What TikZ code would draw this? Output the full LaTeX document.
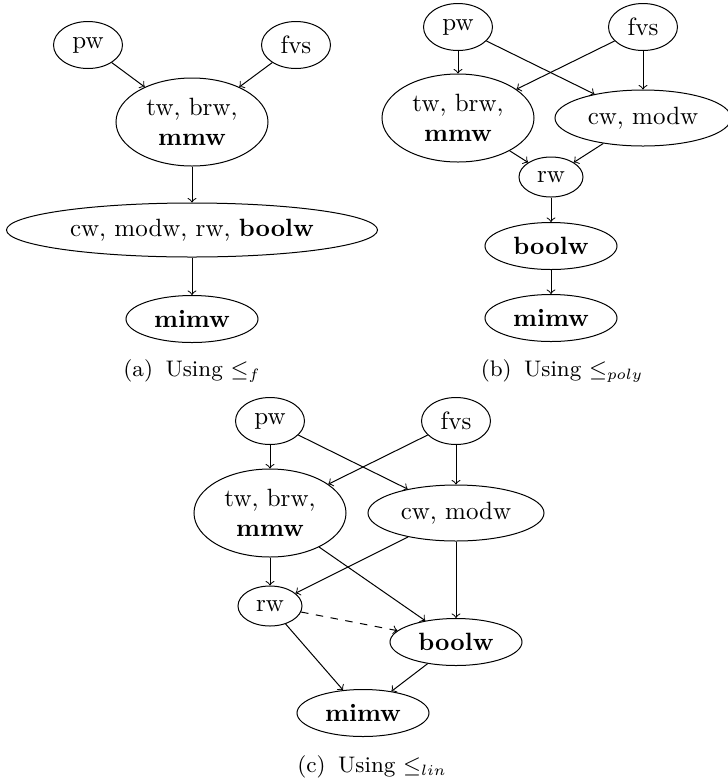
\documentclass[tikz,border=0pt]{standalone}
\usetikzlibrary{shapes.geometric}
\begin{document}
\begin{tikzpicture}[x=0.4pt,y=-0.4pt,
  nd/.style={draw,ellipse,inner sep=0pt,align=center,font=\normalsize},
  nsmall/.style={nd,minimum width=27.6pt,minimum height=18.8pt},
  nbig/.style={nd,minimum width=60.8pt,minimum height=35.2pt},
  nwide/.style={nd,minimum width=70.4pt,minimum height=22.4pt},
  ntiny/.style={nd,minimum width=25.6pt,minimum height=16pt},
  nmed/.style={nd,minimum width=52.8pt,minimum height=18.8pt},
  nhuge/.style={nd,minimum width=148.4pt,minimum height=21.6pt},
  captext/.style={font=\small,inner sep=0pt},
  arr/.style={->}]
\useasboundingbox (0,0) rectangle (728,782);
% (a)
\node[nsmall] (apw) at (88,45) {pw};
\node[nsmall] (afvs) at (296,45) {fvs};
\node[nbig] (atw) at (192,122) {tw, brw,\\ \textbf{mmw}};
\node[nhuge] (acw) at (192,230) {cw, modw, rw, \textbf{boolw}};
\node[nmed] (amimw) at (192,319) {\textbf{mimw}};
\node[captext] (acap) at (192,371) {(a)\hspace{5pt}Using $\leq_f$};
\draw[arr] (apw) -- (atw);
\draw[arr] (afvs) -- (atw);
\draw[arr] (atw) -- (acw);
\draw[arr] (acw) -- (amimw);
% (b)
\node[nsmall] (bpw) at (458,27) {pw};
\node[nsmall] (bfvs) at (643,27) {fvs};
\node[nbig] (btw) at (458,118) {tw, brw,\\ \textbf{mmw}};
\node[nwide] (bcw) at (643,118) {cw, modw};
\node[ntiny] (brw) at (551,177) {rw};
\node[nmed] (bbool) at (551,246) {\textbf{boolw}};
\node[nmed] (bmimw) at (551,318) {\textbf{mimw}};
\node[captext] (bcap) at (562,371) {(b)\hspace{5pt}Using $\leq_{poly}$};
\draw[arr] (bpw) -- (btw);
\draw[arr] (bpw) -- (bcw);
\draw[arr] (bfvs) -- (btw);
\draw[arr] (bfvs) -- (bcw);
\draw[arr] (btw) -- (brw);
\draw[arr] (bcw) -- (brw);
\draw[arr] (brw) -- (bbool);
\draw[arr] (bbool) -- (bmimw);
% (c)
\node[nsmall] (cpw) at (270,421) {pw};
\node[nsmall] (cfvs) at (456,421) {fvs};
\node[nbig] (ctw) at (270,513) {tw, brw,\\ \textbf{mmw}};
\node[nwide] (ccw) at (456,513) {cw, modw};
\node[ntiny] (crw) at (270,606) {rw};
\node[nmed] (cbool) at (456,642) {\textbf{boolw}};
\node[nmed] (cmimw) at (363,713) {\textbf{mimw}};
\node[captext] (ccap) at (372,767) {(c)\hspace{5pt}Using $\leq_{lin}$};
\draw[arr] (cpw) -- (ctw);
\draw[arr] (cpw) -- (ccw);
\draw[arr] (cfvs) -- (ctw);
\draw[arr] (cfvs) -- (ccw);
\draw[arr] (ctw) -- (crw);
\draw[arr] (ccw) -- (crw);
\draw[arr] (ctw) -- (cbool);
\draw[arr] (ccw) -- (cbool);
\draw[arr,dashed] (crw) -- (cbool);
\draw[arr] (crw) -- (cmimw);
\draw[arr] (cbool) -- (cmimw);
\end{tikzpicture}
\end{document}
